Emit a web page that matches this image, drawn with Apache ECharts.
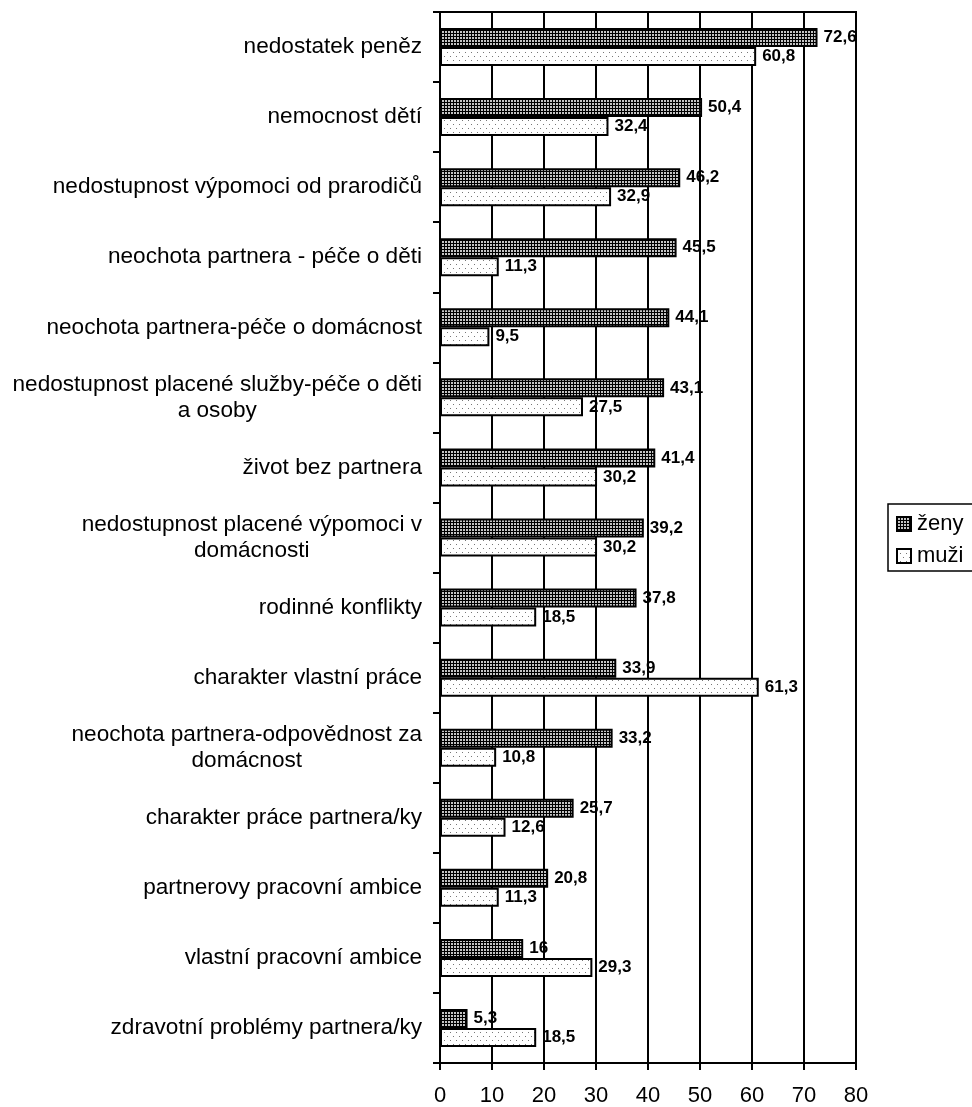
<!DOCTYPE html>
<html>
<head>
<meta charset="utf-8">
<script src="https://cdn.jsdelivr.net/npm/echarts@6/dist/echarts.min.js"></script>
<style>
html,body{margin:0;padding:0;background:#fff;}
#chart{width:972px;height:1107px;}
</style>
</head>
<body>
<div id="chart"></div>
<script>
const categories = [
  'nedostatek peněz',
  'nemocnost dětí',
  'nedostupnost výpomoci od prarodičů',
  'neochota partnera - péče o děti',
  'neochota partnera-péče o domácnost',
  'nedostupnost placené služby-péče o děti\na osoby',
  'život bez partnera',
  'nedostupnost placené výpomoci v\ndomácnosti',
  'rodinné konflikty',
  'charakter vlastní práce',
  'neochota partnera-odpovědnost za\ndomácnost',
  'charakter práce partnera/ky',
  'partnerovy pracovní ambice',
  'vlastní pracovní ambice',
  'zdravotní problémy partnera/ky'
];
const seriesNames = ['ženy', 'muži'];
const zeny = [72.6, 50.4, 46.2, 45.5, 44.1, 43.1, 41.4, 39.2, 37.8, 33.9, 33.2, 25.7, 20.8, 16, 5.3];
const muzi = [60.8, 32.4, 32.9, 11.3, 9.5, 27.5, 30.2, 30.2, 18.5, 61.3, 10.8, 12.6, 11.3, 29.3, 18.5];
const xTicks = [0, 10, 20, 30, 40, 50, 60, 70, 80];

function makeDark() {
  const c = document.createElement('canvas');
  c.width = 3; c.height = 3;
  const g = c.getContext('2d');
  g.fillStyle = '#c4c4c4'; g.fillRect(0, 0, 3, 3);
  g.fillStyle = '#000';
  g.fillRect(0, 0, 3, 1);
  g.fillRect(0, 0, 1, 3);
  return c;
}
function makeLight() {
  const c = document.createElement('canvas');
  c.width = 6; c.height = 8;
  const g = c.getContext('2d');
  g.fillStyle = '#fff'; g.fillRect(0, 0, 6, 8);
  g.fillStyle = '#777';
  g.fillRect(0, 0, 1, 1);
  g.fillRect(3, 4, 1, 1);
  return c;
}
const darkPat = { image: makeDark(), repeat: 'repeat' };
const lightPat = { image: makeLight(), repeat: 'repeat' };

const FONT = "'Liberation Sans', Arial, sans-serif";
const fmt = v => String(v).replace('.', ',');

const chart = echarts.init(document.getElementById('chart'), null, { renderer: 'canvas' });

const labelCfg = {
  show: true,
  position: 'right',
  distance: 6,
  color: '#000',
  fontFamily: FONT,
  fontWeight: 'bold',
  fontSize: 17,
  formatter: p => fmt(p.value)
};

chart.setOption({
  animation: false,
  backgroundColor: '#fff',
  textStyle: { fontFamily: FONT },
  grid: {
    left: 440, right: 116, top: 12, bottom: 42,
    show: true, borderColor: '#000', borderWidth: 2
  },
  legend: {
    orient: 'vertical',
    left: 888, top: 504,
    padding: [9, 10, 4, 8],
    borderColor: '#000', borderWidth: 1.5,
    itemWidth: 14, itemHeight: 14, itemGap: 10,
    icon: 'rect',
    textStyle: { fontFamily: FONT, fontSize: 22, color: '#000', padding: [0, 0, 0, 1] },
    data: seriesNames
  },
  xAxis: {
    type: 'value',
    min: xTicks[0], max: xTicks[xTicks.length - 1], interval: 10,
    axisLine: { show: true, lineStyle: { color: '#000', width: 2 } },
    axisTick: { show: true, length: 7, lineStyle: { color: '#000', width: 2 } },
    splitLine: { show: true, lineStyle: { color: '#000', width: 2 } },
    axisLabel: { fontFamily: FONT, fontSize: 22, color: '#000', margin: 22 }
  },
  yAxis: {
    type: 'category',
    inverse: true,
    data: categories,
    axisLine: { show: true, lineStyle: { color: '#000', width: 2 } },
    axisTick: { show: true, length: 7, lineStyle: { color: '#000', width: 2 } },
    axisLabel: {
      fontFamily: FONT, fontSize: 22.6, color: '#000', margin: 18,
      formatter: v => v.split('\n').map(l => '{c|' + l + '}').join('\n'),
      rich: { c: { fontFamily: FONT, fontSize: 22.6, color: '#000', align: 'center', lineHeight: 26 } }
    }
  },
  series: [
    {
      name: seriesNames[0], type: 'bar', data: zeny,
      barWidth: 19, barGap: '0%',
      itemStyle: { color: darkPat, borderColor: '#000', borderWidth: 2 },
      label: labelCfg
    },
    {
      name: seriesNames[1], type: 'bar', data: muzi,
      barWidth: 19, barGap: '0%',
      itemStyle: { color: lightPat, borderColor: '#000', borderWidth: 2 },
      label: labelCfg
    }
  ]
});
</script>
</body>
</html>
